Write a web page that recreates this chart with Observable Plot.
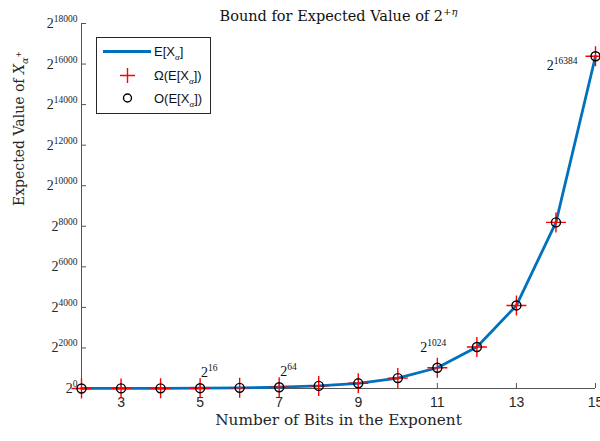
<!DOCTYPE html>
<html><head><meta charset="utf-8">
<script src="https://cdn.jsdelivr.net/npm/d3@7"></script>
<script src="https://cdn.jsdelivr.net/npm/@observablehq/plot@0.6"></script>
<style>body{margin:0;background:#fff} svg{display:block}</style>
</head><body><div id="chart"></div>
<script>
// Number of bits in the exponent
const bits = [2,3,4,5,6,7,8,9,10,11,12,13,14,15];
// log2 of expected value, E[X_alpha]  (value = 2^exp)
const expectedExp = [2,4,8,16,32,64,128,256,512,1024,2048,4096,8192,16384];
// Omega bound (lower) and O bound (upper), log2
const lowerExp = [2,4,8,16,32,64,128,256,512,1024,2048,4096,8192,16384];
const upperExp = [2,4,8,16,32,64,128,256,512,1024,2048,4096,8192,16384];
// tick values
const xTicks = [3,5,7,9,11,13,15];
const yTicks = [0,2000,4000,6000,8000,10000,12000,14000,16000,18000];
// annotations
const annBits = [5,7,11,15];
const annExp = [16,64,1024,16384];
const annLabels = ["2^16","2^64","2^1024","2^16384"];

const rows = bits.map((b,i)=>({bits:b, e:expectedExp[i], lo:lowerExp[i], hi:upperExp[i]}));
const ann = annBits.map((b,i)=>({bits:b, e:annExp[i], label:annLabels[i]}));

const SERIF = "'Liberation Serif', 'DejaVu Serif', serif";
const WSERIF = "'DejaVu Serif', 'Liberation Serif', serif";
const SANS = "'Liberation Sans', Arial, sans-serif";
const BLUE = "#0072BD";
const TITLE = "Bound for Expected Value of 2^+η";
const YLABEL = "Expected Value of X";

const thinPlus = {draw(ctx, size){ const r = Math.sqrt(size/Math.PI); ctx.moveTo(-r,0); ctx.lineTo(r,0); ctx.moveTo(0,-r); ctx.lineTo(0,r); }};

const svgEl = Plot.plot({
  width: 600, height: 441,
  marginLeft: 81, marginRight: 5, marginTop: 23, marginBottom: 53,
  x: {domain: [2,15]},
  y: {domain: [0,18000]},
  style: {background: "white", color: "#262626", overflow: "hidden"},
  marks: [
    Plot.ruleY([0], {stroke: "#555", strokeWidth: 1}),
    Plot.ruleX([2], {stroke: "#555", strokeWidth: 1}),
    Plot.axisX(xTicks, {tickSize: 5, dy: -5, stroke: "#555", tickFormat: () => "", label: null}),
    Plot.axisY(yTicks, {tickSize: 5, dx: 5, stroke: "#555", tickFormat: () => "", label: null}),
    Plot.axisX(xTicks, {tickSize: 0, tickPadding: 9, fontSize: 14, fontFamily: SANS, fill: "#262626", label: null}),
    Plot.axisY(yTicks, {tickSize: 0, tickPadding: 4, fontSize: 14, fontFamily: SERIF, fill: "#262626", tickFormat: d => "2^" + d, label: null}),
    Plot.line(rows, {x: "bits", y: "e", stroke: BLUE, strokeWidth: 2.8}),
    Plot.dot(rows, {x: "bits", y: "lo", symbol: thinPlus, r: 10, stroke: "red", strokeWidth: 1.4, fill: "none"}),
    Plot.dot(rows, {x: "bits", y: "hi", r: 4.5, stroke: "black", strokeWidth: 1.4, fill: "none"}),
    Plot.text(ann.filter(d => d.bits <= 7), {x: "bits", y: "e", text: "label", textAnchor: "start", dx: 1, dy: -16, fontSize: 14, fontFamily: SERIF, fill: "#111"}),
    Plot.text(ann.filter(d => d.bits === 11), {x: "bits", y: "e", text: "label", textAnchor: "end", dx: 9, dy: -20, fontSize: 14, fontFamily: SERIF, fill: "#111"}),
    Plot.text(ann.filter(d => d.bits === 15), {x: "bits", y: "e", text: "label", textAnchor: "end", dx: -18, dy: 9, fontSize: 14, fontFamily: SERIF, fill: "#111"}),
    Plot.text([TITLE], {text: d => d, frameAnchor: "top", dy: -13, fontSize: 14.5, fontFamily: WSERIF, fill: "#111"}),
    Plot.text(["Number of Bits in the Exponent"], {text: d => d, frameAnchor: "bottom", dy: 36, fontSize: 15.3, fontFamily: WSERIF, fill: "#262626"}),
    Plot.text([YLABEL], {text: d => d, frameAnchor: "left", rotate: -90, dx: -62, fontSize: 14, fontFamily: WSERIF, fill: "#262626"})
  ]
});

document.getElementById("chart").appendChild(svgEl);
const svg = d3.select(svgEl);

function setRich(el, parts) {
  const t = d3.select(el); t.text(null);
  for (const p of parts) {
    const ts = t.append("tspan").text(p.t);
    if (p.dy != null) ts.attr("dy", p.dy);
    if (p.size) ts.attr("font-size", p.size);
    if (p.italic) ts.attr("font-style", "italic");
    if (p.family) ts.attr("font-family", p.family);
  }
}
svg.selectAll("text").each(function(){
  const s = this.textContent;
  if (s === TITLE) {
    setRich(this, [{t: "Bound for Expected Value of 2"}, {t: "+", size: 10, dy: -6}, {t: "η", size: 10, italic: true}]);
  } else if (s === YLABEL) {
    setRich(this, [{t: "Expected Value of "}, {t: "X", italic: true}, {t: "α", size: 9.5, italic: true, dy: 4}, {t: "+", size: 7.5, dy: -7}]);
  } else if (s.includes("^")) {
    const [b, e] = s.split("^");
    setRich(this, [{t: b}, {t: e, size: 9.5, dy: -6}]);
  }
});

// Legend
const lg = svg.append("g").attr("aria-label", "legend").attr("text-anchor", "start");
lg.append("rect").attr("x", 96.5).attr("y", 37.5).attr("width", 114).attr("height", 76)
  .attr("fill", "white").attr("stroke", "#262626").attr("stroke-width", 1);
lg.append("line").attr("x1", 103).attr("x2", 151).attr("y1", 51.5).attr("y2", 51.5)
  .attr("stroke", BLUE).attr("stroke-width", 2.8);
lg.append("path").attr("d", "M120,75.5H135M127.5,68V83").attr("stroke", "red").attr("stroke-width", 1.4);
lg.append("circle").attr("cx", 127.5).attr("cy", 98).attr("r", 4).attr("fill", "none").attr("stroke", "black").attr("stroke-width", 1.4);
const legendTexts = [["E[X", "]", 56], ["Ω(E[X", "])", 80], ["O(E[X", "])", 103]];
for (const [a, b, y] of legendTexts) {
  const t = lg.append("text").attr("x", 154).attr("y", y).attr("text-anchor", "start")
    .attr("font-family", SANS).attr("font-size", 13).attr("fill", "#111");
  setRich(t.node(), [{t: a}, {t: "α", size: 9, italic: true, family: SERIF, dy: 4}, {t: b, dy: -4}]);
}
</script>
</body></html>
